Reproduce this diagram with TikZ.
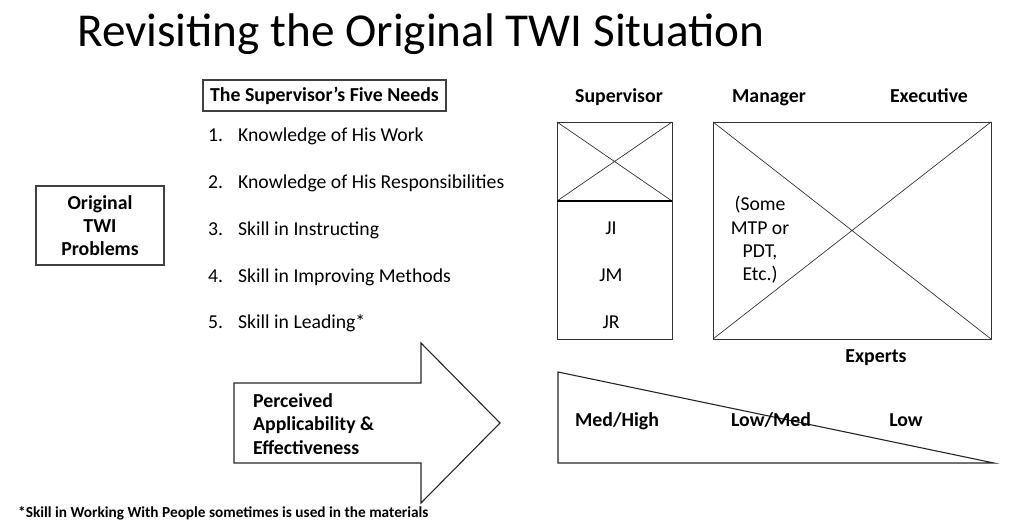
\documentclass[tikz,border=0pt]{standalone}
\usepackage{fontspec}
\setmainfont{Carlito}
\begin{document}
\begin{tikzpicture}[x=1pt,y=-1pt,
  ln/.style={draw=black!85,line width=1.1pt},
  thin/.style={draw=black!80,line width=0.7pt},
  body/.style={font=\fontsize{19.7}{23}\selectfont,anchor=west,inner sep=0pt,text height=0.7em,text depth=0.2em,yshift=-3.5pt},
  bld/.style={font=\bfseries\fontsize{19.8}{23}\selectfont,inner sep=0pt,text height=0.7em,text depth=0.2em,yshift=-3.5pt}]
\useasboundingbox (0,0) rectangle (1024,527);
\node[anchor=west,inner sep=0pt,font=\fontsize{47.2}{52}\selectfont] (title) at (77,34) {Revisiting the Original TWI Situation};
% Five needs box
\draw[ln,draw=black!75] (203,80) rectangle (446,111);
\node[bld] (needs) at (324.5,95.5) {The Supervisor’s Five Needs};
\foreach \n/\t/\y in {1/Knowledge of His Work/135,2/Knowledge of His Responsibilities/182,3/Skill in Instructing/229,4/Skill in Improving Methods/276,5/Skill in Leading*/322}{
  \node[body] (num\n) at (208,\y) {\n.};
  \node[body] (item\n) at (238,\y) {\t};
}
% Original TWI problems
\node[ln,draw=black!75,minimum width=128pt,minimum height=79pt,inner sep=0pt,align=center,font=\bfseries\fontsize{19.8}{23}\selectfont] (orig) at (100,225.5) {Original\\TWI\\Problems};
% Column labels
\node[bld] (sup) at (619,96) {Supervisor};
\node[bld] (man) at (769,96) {Manager};
\node[bld] (exe) at (929,96) {Executive};
% supervisor boxes
\draw[thin] (557,122) rectangle (672,201);
\draw[thin] (557,122) -- (672,201) (672,122) -- (557,201);
\draw[thin] (557,201) rectangle (672,339);
\draw[line width=1.6pt] (557,201) -- (672,201);
\node[body,anchor=center] (ji) at (611,228) {JI};
\node[body,anchor=center] (jm) at (611,275) {JM};
\node[body,anchor=center] (jr) at (611,322) {JR};
% big box
\draw[thin] (713,122) rectangle (991,339);
\draw[thin] (713,122) -- (991,339) (991,122) -- (713,339);
\node[align=center,inner sep=0pt,font=\fontsize{19.7}{23.3}\selectfont] (some) at (760,240) {(Some\\MTP or\\PDT,\\Etc.)};
\node[bld] (exp) at (876,356) {Experts};
% arrow
\draw[ln] (234,383) -- (421,383) -- (421,343) -- (500,423) -- (421,503) -- (421,463) -- (234,463) -- cycle;
\node[anchor=west,inner sep=0pt,align=left,font=\bfseries\fontsize{19.8}{23.5}\selectfont] (perc) at (253,424) {Perceived\\Applicability \&\\Effectiveness};
% triangle
\draw[ln] (558,372) -- (558,463) -- (994,463) -- cycle;
\node[bld] (mh) at (617,420) {Med/High};
\node[bld] (lm) at (771,420) {Low/Med};
\node[bld] (lo) at (906,420) {Low};
% footnote
\node[anchor=west,inner sep=0pt,font=\bfseries\fontsize{15.3}{17}\selectfont] (foot) at (18,513) {*Skill in Working With People sometimes is used in the materials};
\end{tikzpicture}
\end{document}
